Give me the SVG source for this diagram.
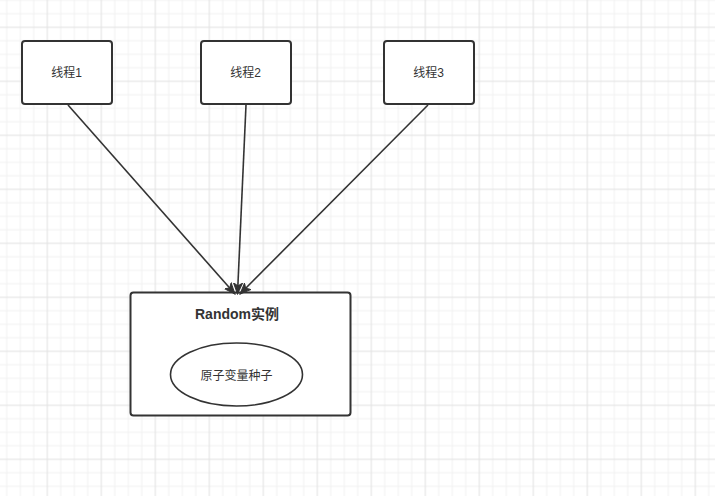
<svg xmlns="http://www.w3.org/2000/svg" width="715" height="496" viewBox="0 0 715 496">
<defs>
<pattern id="grid" patternUnits="userSpaceOnUse" x="40.55" y="20.55" width="54" height="54">
<rect x="0" y="0" width="54" height="54" fill="#ffffff"/>
<g fill="#f2f2f2">
<rect x="19.75" y="0" width="1" height="54"/>
<rect x="33.25" y="0" width="1" height="54"/>
<rect x="46.75" y="0" width="1" height="54"/>
<rect x="0" y="19.75" width="54" height="1"/>
<rect x="0" y="33.25" width="54" height="1"/>
<rect x="0" y="46.75" width="54" height="1"/>
</g>
<g fill="#e2e2e2">
<rect x="6.25" y="0" width="1" height="54"/>
<rect x="0" y="6.25" width="54" height="1"/>
</g>
</pattern>
<marker id="arrow" markerUnits="userSpaceOnUse" markerWidth="12" markerHeight="10" refX="11" refY="5" orient="auto" viewBox="0 0 12 10">
<path d="M0,0.5 L11,5 L0,9.5 L3,5 Z" fill="#333333" stroke="#333333" stroke-width="1" stroke-linejoin="miter"/>
</marker>
<style>
.box{fill:#ffffff;stroke:#333333;stroke-width:2}
.lbl{font-family:"Liberation Sans","Noto Sans CJK SC",sans-serif;font-size:12px;fill:#333333;text-anchor:middle}
.title{font-family:"Liberation Sans","Noto Sans CJK SC",sans-serif;font-size:14px;font-weight:bold;fill:#333333;text-anchor:middle}
.edge{fill:none;stroke:#333333;stroke-width:1.6;marker-end:url(#arrow)}
</style>
</defs>
<rect x="0" y="0" width="715" height="496" fill="url(#grid)"/>
<g id="random">
<rect class="box" x="130.5" y="292.5" width="220" height="123" rx="3"/>
<text class="title" x="237" y="319">Random实例</text>
</g>
<g id="seed">
<ellipse cx="236.5" cy="374.5" rx="66" ry="31.5" fill="#ffffff" stroke="#333333" stroke-width="1.6"/>
<text class="lbl" x="236.5" y="379.5">原子变量种子</text>
</g>
<g id="t1">
<rect class="box" x="22" y="41" width="90" height="63" rx="3"/>
<text class="lbl" x="66.5" y="77">线程1</text>
</g>
<g id="t2">
<rect class="box" x="201" y="41" width="90" height="63" rx="3"/>
<text class="lbl" x="245.5" y="77">线程2</text>
</g>
<g id="t3">
<rect class="box" x="384" y="41" width="90" height="63" rx="3"/>
<text class="lbl" x="428.5" y="77">线程3</text>
</g>
<g id="connectors">
<path class="edge" d="M68,105 L235,294"/>
<path class="edge" d="M246,105 L237.5,294"/>
<path class="edge" d="M428,105 L240,294"/>
</g>
</svg>
